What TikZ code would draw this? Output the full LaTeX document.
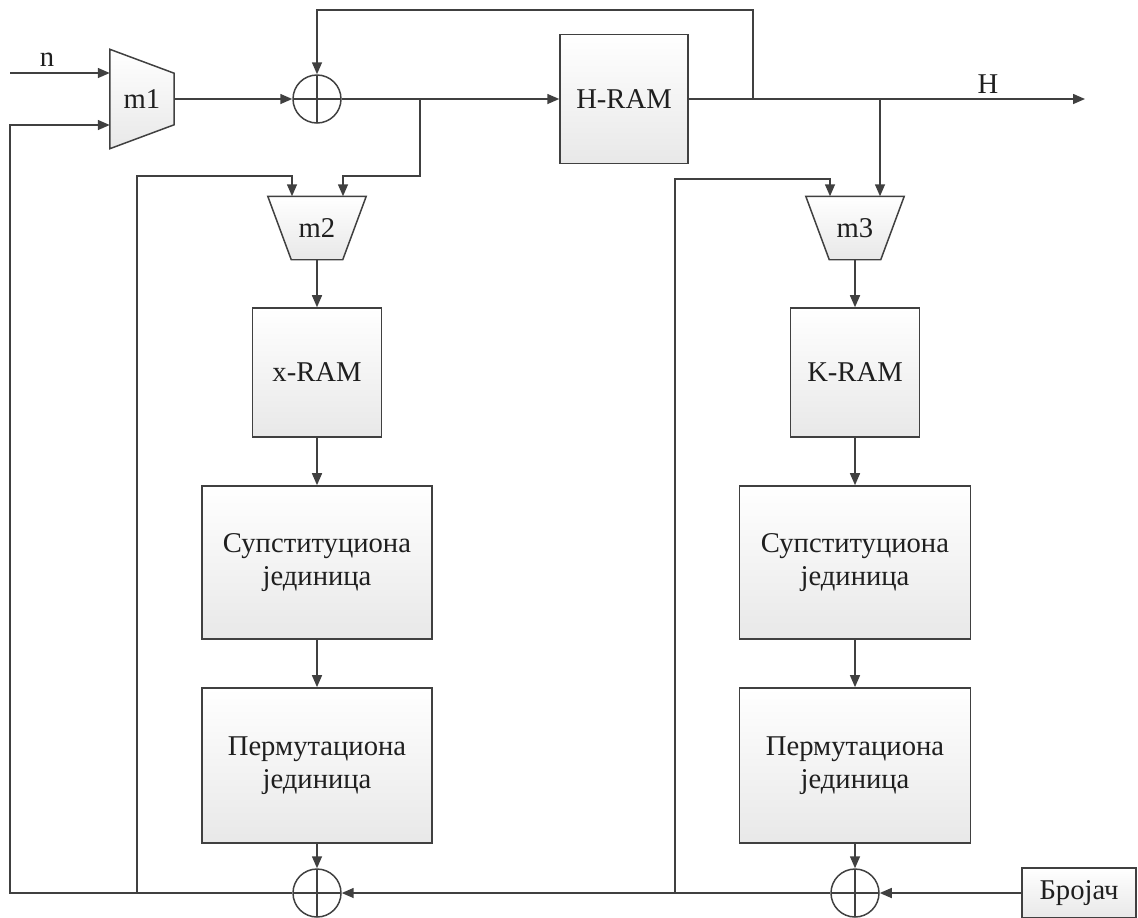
\documentclass[tikz,border=0pt]{standalone}
\usepackage{fontspec}
\setmainfont{Liberation Serif}
\usetikzlibrary{arrows.meta,positioning}
\definecolor{wire}{HTML}{404040}

\begin{document}
\begin{tikzpicture}[
    x=0.02cm, y=-0.02cm,
    node distance=0.95cm,
    font=\fontsize{16.3}{19}\selectfont,
    color=wire, line width=0.85pt, text=black!88,
    >={Triangle[length=0.24cm,width=0.2cm]},
    block/.style={draw=wire,top color=white,bottom color=black!9,align=center,inner sep=0pt},
    muxbox/.style={inner sep=0pt},
    muxfill/.style={draw=wire,top color=white,bottom color=black!9},
    xor/.style={draw=wire,circle,minimum size=0.96cm,inner sep=0pt,
      path picture={\draw[wire,line width=0.85pt]
        (path picture bounding box.north) -- (path picture bounding box.south)
        (path picture bounding box.west) -- (path picture bounding box.east);}}]
  \useasboundingbox (0,0) rectangle (1138,917);

  % top row
  \node[muxbox,minimum width=1.26cm,minimum height=1.96cm] (m1) at (142,99) {};
  \path[muxfill] (m1.north west) -- ([yshift=-0.48cm]m1.north east)
    -- ([yshift=0.48cm]m1.south east) -- (m1.south west) -- cycle;
  \node (m1t) at (m1) {m1};
  \node[xor] (x1) at (317,99) {};
  \node[block,minimum width=2.56cm,minimum height=2.58cm] (hram) at (624,99) {H-RAM};
  \node (nlbl) at (47,60) {n};
  \node (hlbl) at (988,84) {H};

  % left column
  \node[muxbox,minimum width=1.94cm,minimum height=1.24cm] (m2) at (317,228) {};
  \path[muxfill] (m2.north west) -- (m2.north east)
    -- ([xshift=-0.47cm]m2.south east) -- ([xshift=0.47cm]m2.south west) -- cycle;
  \node (m2t) at (m2) {m2};
  \node[block,minimum width=2.58cm,minimum height=2.58cm,below=of m2] (xram) {x-RAM};
  \node[block,minimum width=4.6cm,minimum height=3.06cm,below=of xram] (subx) {Супституциона\\јединица};
  \node[block,minimum width=4.6cm,minimum height=3.1cm,below=of subx] (perx) {Пермутациона\\јединица};
  \node[xor] (x2) at (317,893) {};

  % right column
  \node[muxbox,minimum width=1.94cm,minimum height=1.24cm] (m3) at (855,228) {};
  \path[muxfill] (m3.north west) -- (m3.north east)
    -- ([xshift=-0.47cm]m3.south east) -- ([xshift=0.47cm]m3.south west) -- cycle;
  \node (m3t) at (m3) {m3};
  \node[block,minimum width=2.58cm,minimum height=2.58cm,below=of m3] (kram) {K-RAM};
  \node[block,minimum width=4.62cm,minimum height=3.06cm,below=of kram] (subk) {Супституциона\\јединица};
  \node[block,minimum width=4.62cm,minimum height=3.1cm,below=of subk] (perk) {Пермутациона\\јединица};
  \node[xor] (x3) at (855,893) {};
  \node[block,minimum width=2.28cm,minimum height=1cm] (cnt) at (1079,893) {Бројач};

  % junctions and free ends
  \coordinate (nin) at (10,73);
  \coordinate (m1b) at (111,125);
  \coordinate (fbl) at (10,893);
  \coordinate (jh) at (753,99);
  \coordinate (top) at (753,10);
  \coordinate (jx) at (420,99);
  \coordinate (jk) at (880,99);
  \coordinate (hout) at (1085,99);
  \coordinate (jl) at (137,893);
  \coordinate (jr) at (675,893);
  \coordinate (m2l) at (292,176);
  \coordinate (m2r) at (343,176);
  \coordinate (m3l) at (830,179);

  \draw[->] (nin) -- (nin -| m1.west);
  \draw[->] (m1.east) -- (x1.west);
  \draw[->] (x1.east) -- (hram.west);
  \draw[->] (jh) -- (top) -| (x1.north);
  \draw[->] (hram.east) -- (hout);
  \draw[->] (jx) |- (m2r) -- (m2r |- m2.north);
  \draw[->] (jl) |- (m2l) -- (m2l |- m2.north);
  \draw[->] (jk) -- (jk |- m3.north);
  \draw[->] (jr) |- (m3l) -- (m3l |- m3.north);

  \draw[->] (m2) -- (xram);
  \draw[->] (xram) -- (subx);
  \draw[->] (subx) -- (perx);
  \draw[->] (perx) -- (x2);
  \draw[->] (m3) -- (kram);
  \draw[->] (kram) -- (subk);
  \draw[->] (subk) -- (perk);
  \draw[->] (perk) -- (x3);

  \draw[->] (cnt.west) -- (x3.east);
  \draw[->] (x3.west) -- (x2.east);
  \draw[->] (x2.west) -- (fbl) |- (m1.west |- m1b);
\end{tikzpicture}
\end{document}
